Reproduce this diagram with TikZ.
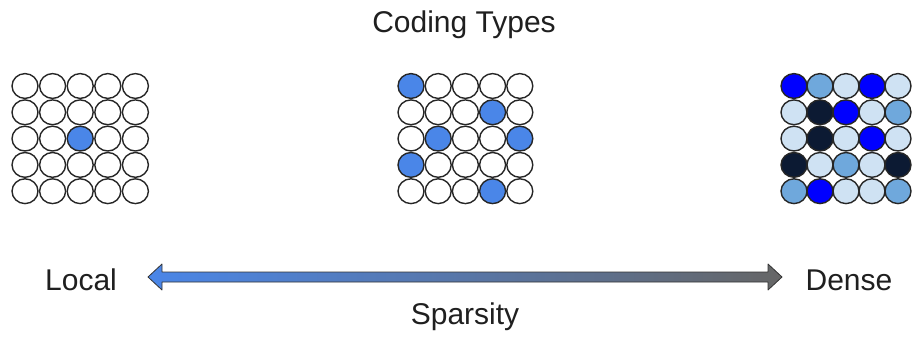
\documentclass[tikz,border=0pt]{standalone}
\usepackage{fontspec}
\setmainfont{Liberation Sans}
\usetikzlibrary{shapes.geometric, calc}

\definecolor{wt}{HTML}{FFFFFF}
\definecolor{cf}{HTML}{4A86E8}
\definecolor{pl}{HTML}{CFE2F3}
\definecolor{md}{HTML}{6FA8DC}
\definecolor{bl}{HTML}{0000FF}
\definecolor{dk}{HTML}{0C1A33}
\definecolor{arrowgray}{HTML}{666666}

\tikzset{
  unit/.style={ellipse, draw=black!85, line width=1.4pt, inner sep=0pt, minimum width=26pt, minimum height=24.8pt},
  lbl/.style={font=\fontsize{30}{36}\selectfont, text=black!88, anchor=base, inner sep=0pt}
}

\begin{document}
\begin{tikzpicture}[x=1pt, y=-1pt]
  \useasboundingbox (0,0) rectangle (917,337);

  % Title
  \node[lbl] (title) at (464,33) {Coding Types};

  % Local code: one active unit
  \foreach \row [count=\r] in {{wt,wt,wt,wt,wt},{wt,wt,wt,wt,wt},{wt,wt,cf,wt,wt},{wt,wt,wt,wt,wt},{wt,wt,wt,wt,wt}}
    \foreach \col [count=\c] in \row
      \node[unit, fill=\col] (loc-\r-\c) at (25+27.6*\c-27.6, 86+26.3*\r-26.3) {};

  % Sparse code: a few active units
  \foreach \row [count=\r] in {{cf,wt,wt,wt,wt},{wt,wt,wt,cf,wt},{wt,cf,wt,wt,cf},{cf,wt,wt,wt,wt},{wt,wt,wt,cf,wt}}
    \foreach \col [count=\c] in \row
      \node[unit, fill=\col] (spa-\r-\c) at (411+27.2*\c-27.2, 86+26.3*\r-26.3) {};

  % Dense code: every unit active
  \foreach \row [count=\r] in {{bl,md,pl,bl,pl},{pl,dk,bl,pl,md},{pl,dk,pl,bl,pl},{dk,pl,md,pl,dk},{md,bl,pl,pl,md}}
    \foreach \col [count=\c] in \row
      \node[unit, fill=\col] (den-\r-\c) at (794+26*\c-26, 86+26.3*\r-26.3) {};

  % Sparsity axis
  \node[lbl] (local) at (81,290) {Local};
  \node[lbl] (dense) at (849,290) {Dense};
  \node[lbl] (sparsity) at (465,324) {Sparsity};

  \coordinate (tipL) at (148,277);
  \coordinate (tipR) at (782,277);
  \shadedraw[left color=cf, right color=arrowgray, draw=black!80, line width=0.8pt, line join=round]
    (tipL) -- ++(14,-13) -- ++(0,8) -- ($(tipR)+(-14,-5)$) -- ++(0,-8) -- (tipR)
    -- ++(-14,13) -- ++(0,-8) -- ($(tipL)+(14,5)$) -- ++(0,8) -- cycle;
\end{tikzpicture}
\end{document}
